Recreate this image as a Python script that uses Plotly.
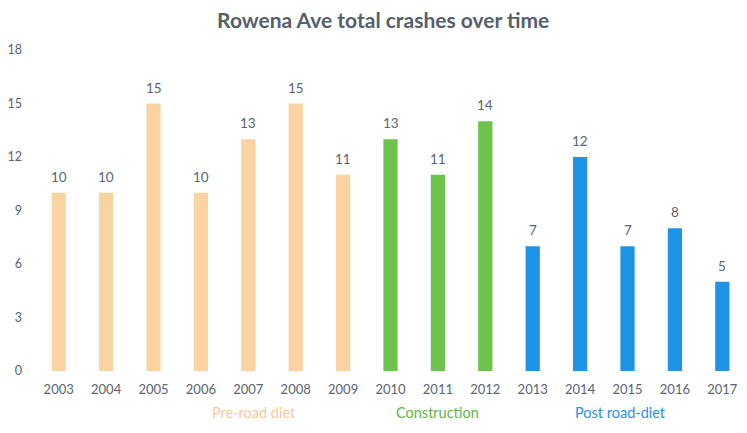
import plotly.graph_objects as go

years = ["2003", "2004", "2005", "2006", "2007", "2008", "2009", "2010",
         "2011", "2012", "2013", "2014", "2015", "2016", "2017"]
crashes = [10, 10, 15, 10, 13, 15, 11, 13, 11, 14, 7, 12, 7, 8, 5]
phases = ["Pre-road diet"] * 7 + ["Construction"] * 3 + ["Post road-diet"] * 5
phase_names = ["Pre-road diet", "Construction", "Post road-diet"]
phase_label_pos = [4.13, 8.0, 11.86]
y_ticks = [0, 3, 6, 9, 12, 15, 18]

phase_colors = {"Pre-road diet": "#FBD3A2", "Construction": "#6CC24A", "Post road-diet": "#1E93E8"}
phase_text_colors = {"Pre-road diet": "#F8C99A", "Construction": "#5DB548", "Post road-diet": "#2C8FE0"}
text_gray = "#5A6470"

fig = go.Figure()
fig.add_trace(go.Bar(
    x=years, y=crashes,
    marker=dict(color=[phase_colors[p] for p in phases], line=dict(width=0)),
    width=0.3,
    showlegend=False,
    hoverinfo="x+y",
))

# value labels above bars (category index positions on the category axis)
for i, v in enumerate(crashes):
    fig.add_annotation(x=i, y=v, xref="x", yref="y", yanchor="middle", yshift=16,
                       text=str(v), showarrow=False,
                       font=dict(size=13.5, color=text_gray, family="Lato"))

for name, pos in zip(phase_names, phase_label_pos):
    fig.add_annotation(x=pos, xref="x", y=0, yref="paper", yanchor="middle",
                       yshift=-41, text=name, showarrow=False,
                       font=dict(size=14.5, color=phase_text_colors[name], family="Lato"))

fig.update_layout(
    width=747, height=433,
    margin=dict(l=35, r=1, t=50, b=62, autoexpand=False),
    paper_bgcolor="white", plot_bgcolor="white",
    title=dict(text="<b>Rowena Ave total crashes over time</b>", x=0.513, xanchor="center",
               y=0.953, yanchor="middle",
               font=dict(size=21, color="#56606B", family="Lato")),
    xaxis=dict(type="category", range=[-0.5, 14.5], showgrid=False, showline=False,
               zeroline=False, ticks="", ticklabelstandoff=9, automargin=False,
               tickfont=dict(size=13, color=text_gray, family="Lato")),
    yaxis=dict(range=[0, 18], tickvals=y_ticks, showgrid=False, showline=False,
               zeroline=False, ticks="", ticklabelstandoff=12, automargin=False,
               tickfont=dict(size=12.5, color=text_gray, family="Lato")),
    bargap=0.7,
)

fig.write_html("out.html", config={"displayModeBar": False},
               post_script="document.body.style.margin='0';document.body.style.overflow='hidden';")
